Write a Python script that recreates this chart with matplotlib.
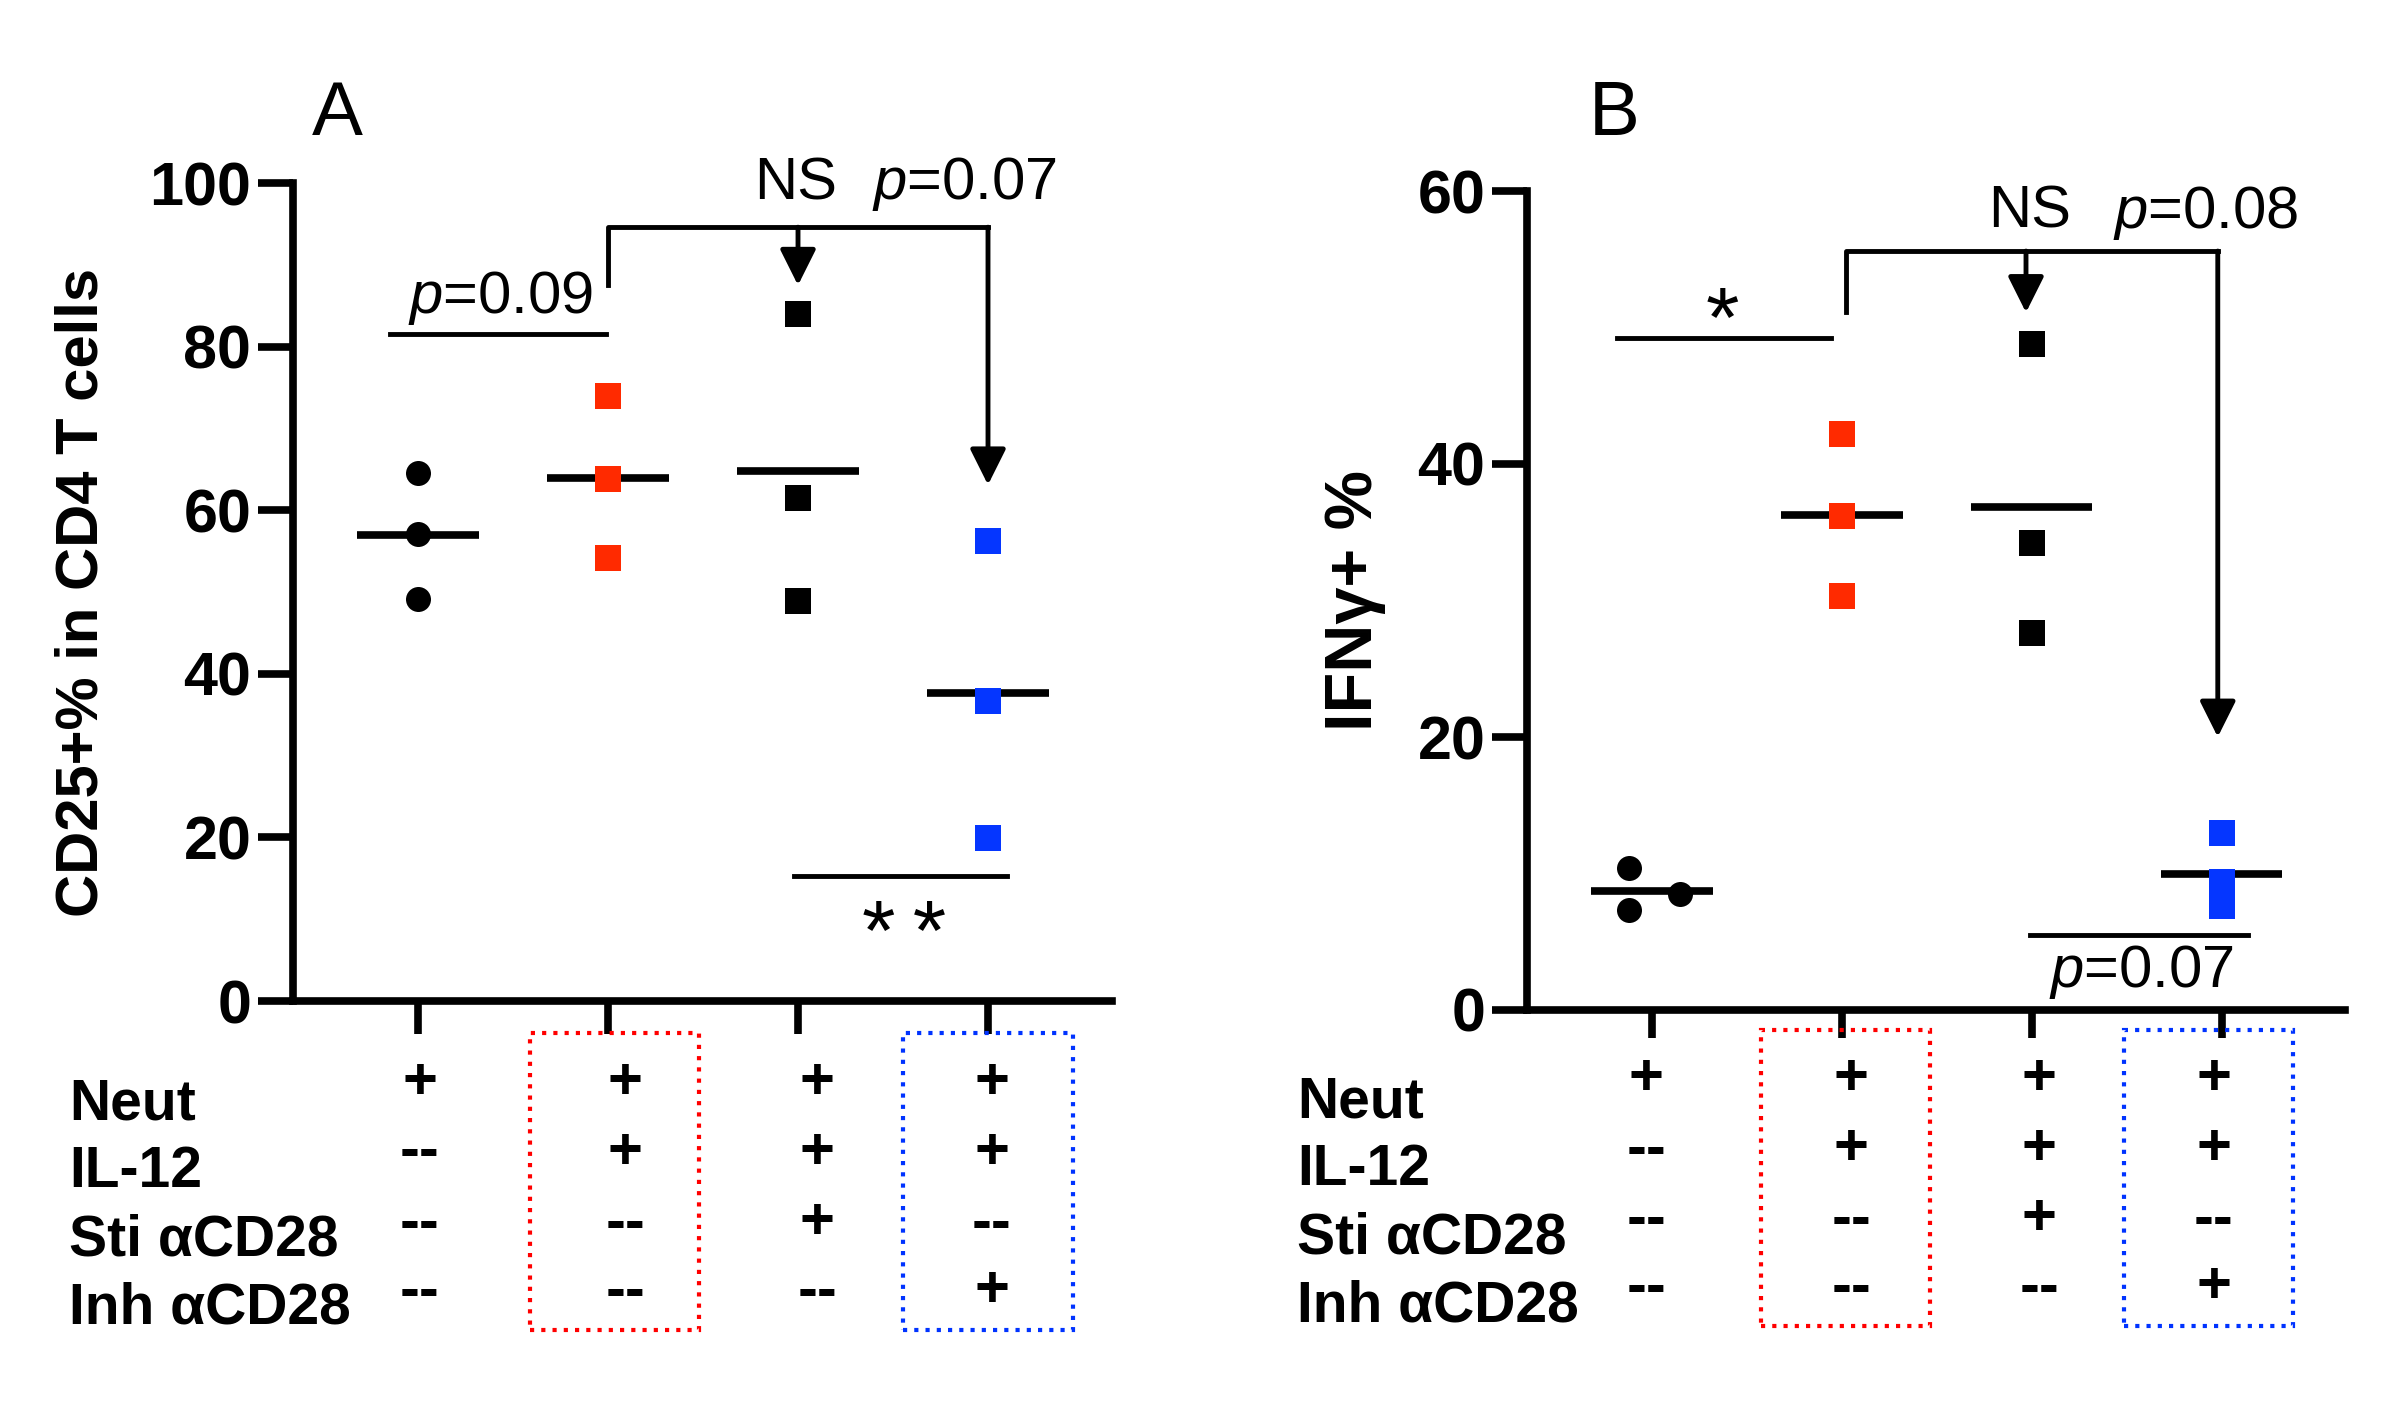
import numpy as np
import matplotlib
matplotlib.use('Agg')
import matplotlib.pyplot as plt
import matplotlib.transforms as mtransforms
from matplotlib.patches import Rectangle

plt.rcParams['font.family'] = ['Liberation Sans', 'DejaVu Sans']
plt.rcParams['mathtext.fontset'] = 'custom'
plt.rcParams['mathtext.it'] = 'Liberation Sans:italic'
plt.rcParams['mathtext.rm'] = 'Liberation Sans'

# treatment table shown under both panels
row_labels = ['Neut', 'IL-12', 'Sti αCD28', 'Inh αCD28']
treatments = [['+', '+', '+', '+'],
              ['--', '+', '+', '+'],
              ['--', '--', '+', '--'],
              ['--', '--', '--', '+']]
groups = [1, 2, 3, 4]
group_colors = ['black', '#FF2A00', 'black', '#0536FF']
group_markers = ['o', 's', 's', 's']

# panel A: CD25+% in CD4 T cells (3 donors per group)
cd25 = [[64.6, 57.1, 49.1],
        [74.0, 63.8, 54.1],
        [84.0, 61.5, 48.9],
        [56.2, 36.7, 19.9]]
cd25_ticks = [0, 20, 40, 60, 80, 100]

# panel B: IFNγ+ %
ifng = [[10.4, 7.3, 8.5],
        [42.2, 36.2, 30.3],
        [48.8, 34.2, 27.6],
        [13.0, 9.4, 7.6]]
ifng_ticks = [0, 20, 40, 60]

# horizontal jitter of the points (only the first group in B is spread)
no_jitter = [[0, 0, 0]] * 4
ifng_jitter = [[-0.12, -0.12, 0.15], [0, 0, 0], [0, 0, 0], [0, 0, 0]]

W, H = 2397, 1408
fig = plt.figure(figsize=(W / 100, H / 100), dpi=100)


def fy(px):
    return 1 - px / H


def arrow(ax, x, y0, y1):
    ax.annotate('', xy=(x, y1), xytext=(x, y0),
                arrowprops=dict(arrowstyle='-|>,head_length=1.1,head_width=0.55',
                                mutation_scale=20, lw=3.5, color='black',
                                shrinkA=0, shrinkB=0), annotation_clip=False)


def panel(rect, vals, jitter, ticks, ylab, ylab_size, ylab_x, xtick_len,
          col_shift, box_shift, box_y, lab_x, lab_base, sym_y):
    ax = fig.add_axes(rect)
    for i, g in enumerate(groups):
        xs = [g + j for j in jitter[i]]
        ax.plot(xs, vals[i], ls='none', marker=group_markers[i],
                color=group_colors[i], ms=18 if group_markers[i] == 'o' else 18.5,
                mew=0, zorder=4, clip_on=False)
        ax.hlines(np.mean(vals[i]), g - 0.32, g + 0.32, color='black', lw=5.5, zorder=3)

    ax.set_xlim(0.342, 4.65)
    ax.set_ylim(ticks[0], ticks[-1])
    ax.set_xticks(groups)
    ax.set_xticklabels([])
    ax.set_yticks(ticks)
    for s in ['top', 'right']:
        ax.spines[s].set_visible(False)
    for s in ['left', 'bottom']:
        ax.spines[s].set_linewidth(5.5)
    ax.tick_params(axis='x', length=xtick_len, width=5.5)
    ax.tick_params(axis='y', length=25, width=5.5, labelsize=44, pad=5)
    for lbl in ax.get_yticklabels():
        lbl.set_fontweight('bold')
    ax.set_ylabel(ylab, fontsize=ylab_size, fontweight='bold')
    ax.yaxis.set_label_coords(ylab_x, 0.5)

    # condition table below the axis
    trans = mtransforms.blended_transform_factory(ax.transData, fig.transFigure)
    for r, lab in enumerate(row_labels):
        fig.text(lab_x / W, fy(lab_base[r]), lab, fontsize=41, fontweight='bold',
                 ha='left', va='baseline')
        for c, g in enumerate(groups):
            ax.text(g + col_shift[c], fy(sym_y[r]), treatments[r][c], transform=trans,
                    ha='center', va='center', fontsize=43, fontweight='bold')
    for (g, shift, color) in zip([2, 4], box_shift, ['#FF0000', '#0033FF']):
        box = Rectangle((g + shift - 0.445, fy(box_y[1])), 0.89, (box_y[1] - box_y[0]) / H,
                        transform=trans, fill=False, ec=color, lw=3,
                        ls=(0, (1, 1.7)), clip_on=False)
        fig.add_artist(box)
    return ax


ax1 = panel([293 / W, fy(1001), 818.5 / W, 818 / H], cd25, no_jitter, cd25_ticks,
            'CD25+% in CD4 T cells', 43, -0.224, 24,
            [0.01, 0.09, 0.10, 0.02], [0.035, 0.0], (1033, 1330),
            69, [1120, 1187, 1255, 1323], [1083, 1153, 1224, 1292])

ax2 = panel([1527 / W, fy(1010), 818 / W, 819 / H], ifng, ifng_jitter, ifng_ticks,
            'IFNγ+ %', 48, -0.172, 20,
            [-0.03, 0.05, 0.04, -0.04], [0.02, -0.07], (1030, 1326),
            1297, [1117, 1185, 1253, 1322], [1080, 1150, 1220, 1288])

# panel A statistics
ax1.plot([0.85, 1.99], [81.5, 81.5], color='black', lw=3.5, clip_on=False)
ax1.text(1.435, 84.1, '$p$=0.09', ha='center', va='baseline', fontsize=43)
ax1.plot([2, 2, 4], [87.5, 94.6, 94.6], color='black', lw=3.5, clip_on=False)
arrow(ax1, 4, 94.6, 63.1)
arrow(ax1, 3, 94.6, 87.5)
ax1.text(2.99, 98.0, 'NS', ha='center', va='baseline', fontsize=43)
ax1.text(3.39, 98.0, '$p$=0.07', ha='left', va='baseline', fontsize=43)
ax1.plot([2.98, 4.1], [15.3, 15.3], color='black', lw=3.5, clip_on=False)
ax1.text(3.56, 5.0, '*\u2009*', ha='center', va='baseline', fontsize=62)

# panel B statistics
ax2.plot([0.815, 1.945], [49.2, 49.2], color='black', lw=3.5, clip_on=False)
ax2.text(1.37, 48.6, '*', ha='center', va='baseline', fontsize=62)
ax2.plot([2.02, 2.02, 3.98], [51.1, 55.6, 55.6], color='black', lw=3.5, clip_on=False)
arrow(ax2, 3.98, 55.6, 20.0)
arrow(ax2, 2.97, 55.6, 51.1)
ax2.text(2.99, 57.3, 'NS', ha='center', va='baseline', fontsize=43)
ax2.text(3.43, 57.3, '$p$=0.08', ha='left', va='baseline', fontsize=43)
ax2.plot([2.99, 4.14], [5.5, 5.5], color='black', lw=3.5, clip_on=False)
ax2.text(3.58, 1.7, '$p$=0.07', ha='center', va='baseline', fontsize=43)

fig.text(337 / W, fy(135), 'A', fontsize=55, ha='center', va='baseline')
fig.text(1614 / W, fy(135), 'B', fontsize=55, ha='center', va='baseline')

fig.savefig('out.png', dpi=100, facecolor='white')
